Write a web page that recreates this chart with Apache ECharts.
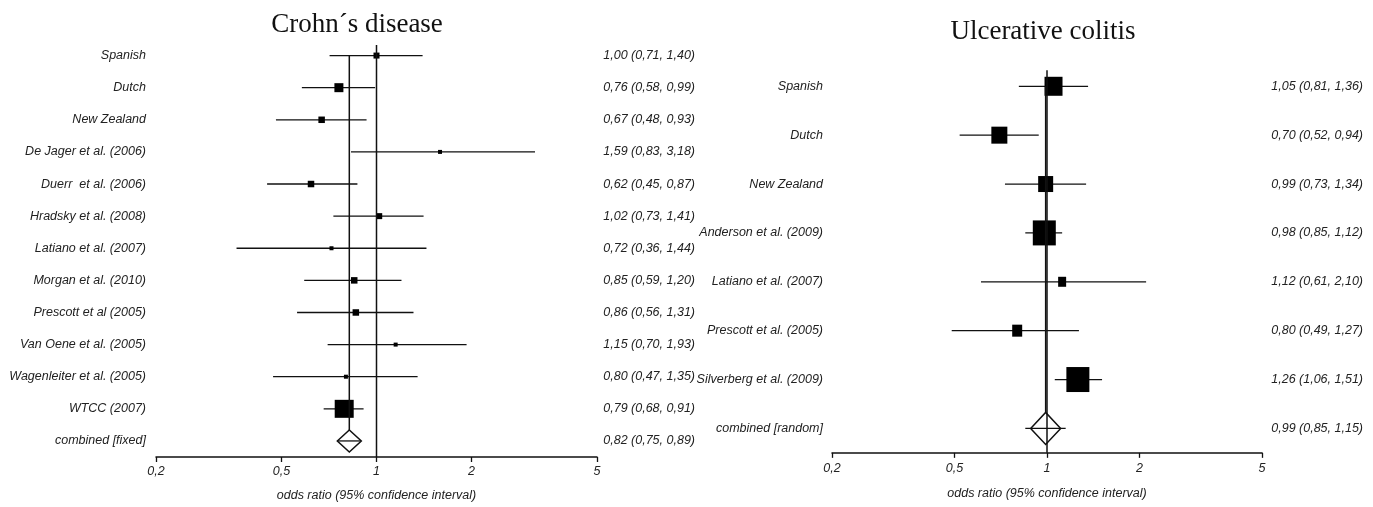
<!DOCTYPE html>
<html><head><meta charset="utf-8">
<script src="https://cdn.jsdelivr.net/npm/echarts@6/dist/echarts.min.js"></script>
<style>html,body{margin:0;padding:0;background:#fff}#c{width:1373px;height:507px}</style>
</head><body><div id="c"></div>
<script>
// ---- Crohn's disease ----
const cdStudies = ['Spanish','Dutch','New Zealand','De Jager et al. (2006)','Duerr  et al. (2006)','Hradsky et al. (2008)','Latiano et al. (2007)','Morgan et al. (2010)','Prescott et al (2005)','Van Oene et al. (2005)','Wagenleiter et al. (2005)','WTCC (2007)','combined [fixed]'];
const cdOR   = [1.00,0.76,0.67,1.59,0.62,1.02,0.72,0.85,0.86,1.15,0.80,0.79,0.82];
const cdLow  = [0.71,0.58,0.48,0.83,0.45,0.73,0.36,0.59,0.56,0.70,0.47,0.68,0.75];
const cdHigh = [1.40,0.99,0.93,3.18,0.87,1.41,1.44,1.20,1.31,1.93,1.35,0.91,0.89];
const cdBoxW = [6,9,6.5,4,6.5,6,4,6.5,6.5,4,4,19,24];
const cdBoxH = [6,9,6.5,4,6.5,6,4,6.5,6.5,4,4,18,22];

// ---- Ulcerative colitis ----
const ucStudies = ['Spanish','Dutch','New Zealand','Anderson et al. (2009)','Latiano et al. (2007)','Prescott et al. (2005)','Silverberg et al. (2009)','combined [random]'];
const ucOR   = [1.05,0.70,0.99,0.98,1.12,0.80,1.26,0.99];
const ucLow  = [0.81,0.52,0.73,0.85,0.61,0.49,1.06,0.85];
const ucHigh = [1.36,0.94,1.34,1.12,2.10,1.27,1.51,1.15];
const ucBoxW = [18,16,15,23,8,10,23,30];
const ucBoxH = [19,17,16,25,10,12,25,32];

const tickValues = [0.2, 0.5, 1, 2, 5];
const axisTitle = 'odds ratio (95% confidence interval)';

function fmt(v){ return v.toFixed(2).replace('.', ','); }
function ciLabels(or, lo, hi){ return or.map((v,i)=> fmt(v)+' ('+fmt(lo[i])+', '+fmt(hi[i])+')'); }
function studyData(or, lo, hi, bw, bh){
  return or.map((v,i)=>[i, v, lo[i], hi[i], bw[i], bh[i], i===or.length-1?1:0]);
}
const INK = '#111';
function renderStudy(params, api){
  const i = api.value(0), est = api.value(1), lo = api.value(2), hi = api.value(3);
  const w = api.value(4), h = api.value(5), kind = api.value(6);
  const pE = api.coord([est, i]), pL = api.coord([lo, i]), pH = api.coord([hi, i]);
  const children = [];
  if (kind === 1){
    children.push({type:'polygon', shape:{points:[[pE[0]-w/2,pE[1]],[pE[0],pE[1]-h/2],[pE[0]+w/2,pE[1]],[pE[0],pE[1]+h/2]]},
      style:{fill:'#fff', stroke:INK, lineWidth:1.5}});
    children.push({type:'line', shape:{x1:pL[0],y1:pL[1],x2:pH[0],y2:pH[1]}, style:{stroke:INK, lineWidth:1.3}});
  } else {
    children.push({type:'line', shape:{x1:pL[0],y1:pL[1],x2:pH[0],y2:pH[1]}, style:{stroke:INK, lineWidth:1.3}});
    children.push({type:'rect', shape:{x:pE[0]-w/2,y:pE[1]-h/2,width:w,height:h}, style:{fill:'#000'}});
  }
  return {type:'group', children};
}
function makeRefRender(nRows, diamondH){
  return function(params, api){
    const v = api.value(0), kind = api.value(1);
    const band = api.size([1, 1])[1];
    const p0 = api.coord([v, 0]);
    const cs = params.coordSys;
    let y1, y2;
    if (kind === 0){ y1 = p0[1] - band*0.33; y2 = cs.y + cs.height; }
    else { y1 = p0[1]; y2 = api.coord([v, nRows-1])[1] - diamondH/2; }
    return {type:'line', shape:{x1:p0[0], y1:y1, x2:p0[0], y2:y2}, style:{stroke:INK, lineWidth:1.5}};
  };
}
const txt = {fontStyle:'italic', fontFamily:'Liberation Sans', fontSize:12.5, color:'#222'};
function xAxisCfg(gi, gap, margin){
  return {type:'log', logBase:10, min:0.2, max:5, gridIndex:gi, position:'bottom',
    splitLine:{show:false}, minorTick:{show:false},
    axisLine:{show:true, onZero:false, lineStyle:{color:INK, width:1.5}},
    axisTick:{show:true, length:5, customValues:tickValues, lineStyle:{color:INK, width:1.3}},
    axisLabel:Object.assign({customValues:tickValues, margin:margin, formatter:v=>String(v).replace('.', ',')}, txt),
    name:axisTitle, nameLocation:'middle', nameGap:gap,
    nameTextStyle:Object.assign({}, txt)};
}
function yLabelAxis(gi, data, margin){
  return {type:'category', gridIndex:gi, inverse:true, data:data,
    axisLine:{show:false}, axisTick:{show:false}, splitLine:{show:false},
    axisLabel:Object.assign({interval:0, margin:margin}, txt)};
}
function yValueAxis(gi, data, margin){
  return {type:'category', gridIndex:gi, inverse:true, position:'right', data:data,
    axisLine:{show:false}, axisTick:{show:false}, splitLine:{show:false},
    axisLabel:Object.assign({interval:0, margin:margin, align:'right'}, txt)};
}

const chart = echarts.init(document.getElementById('c'), null, {renderer:'canvas'});
chart.setOption({
  animation:false,
  backgroundColor:'#fff',
  graphic:[
    {type:'text', x:357, y:25, style:{text:'Crohn\u00b4s disease', align:'center', verticalAlign:'middle', textAlign:'center', textVerticalAlign:'middle', font:'27px "Liberation Serif"', fill:INK}},
    {type:'text', x:1043, y:32, style:{text:'Ulcerative colitis', align:'center', verticalAlign:'middle', textAlign:'center', textVerticalAlign:'middle', font:'27px "Liberation Serif"', fill:INK}}
  ],
  grid:[
    {left:156, top:39.5, width:441, height:420.7},
    {left:832, top:61.85, width:430, height:391}
  ],
  xAxis:[ xAxisCfg(0, 32, 8), xAxisCfg(1, 34, 9) ],
  yAxis:[
    yLabelAxis(0, cdStudies, 10),
    yValueAxis(0, ciLabels(cdOR, cdLow, cdHigh), 98),
    yLabelAxis(1, ucStudies, 9),
    yValueAxis(1, ciLabels(ucOR, ucLow, ucHigh), 101)
  ],
  series:[
    {type:'custom', name:'Crohn', xAxisIndex:0, yAxisIndex:0, renderItem:renderStudy, z:2,
      encode:{x:[1,2,3], y:0}, data:studyData(cdOR, cdLow, cdHigh, cdBoxW, cdBoxH)},
    {type:'custom', name:'CD ref', xAxisIndex:0, yAxisIndex:0, z:3,
      renderItem:makeRefRender(cdStudies.length, cdBoxH[cdBoxH.length-1]),
      encode:{x:0}, data:[[1, 0], [cdOR[cdOR.length-1], 1]]},
    {type:'custom', name:'UC', xAxisIndex:1, yAxisIndex:2, renderItem:renderStudy, z:2,
      encode:{x:[1,2,3], y:0}, data:studyData(ucOR, ucLow, ucHigh, ucBoxW, ucBoxH)},
    {type:'custom', name:'UC ref', xAxisIndex:1, yAxisIndex:2, z:3,
      renderItem:makeRefRender(ucStudies.length, ucBoxH[ucBoxH.length-1]),
      encode:{x:0}, data:[[1, 0], [ucOR[ucOR.length-1], 1]]}
  ]
});
</script></body></html>
